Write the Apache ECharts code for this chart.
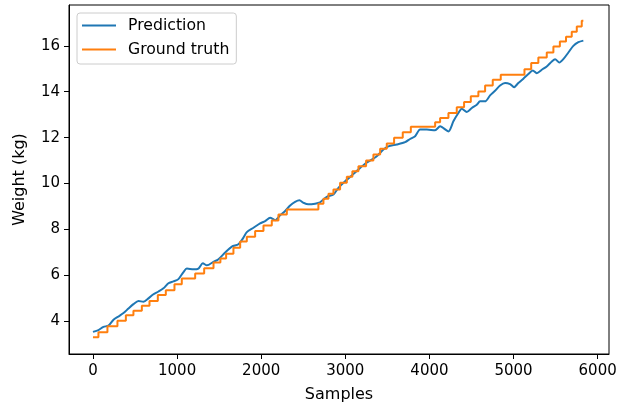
<!DOCTYPE html>
<html>
<head>
<meta charset="utf-8">
<script src="https://cdn.jsdelivr.net/npm/echarts@6/dist/echarts.min.js"></script>
<style>
  html, body { margin: 0; padding: 0; background: #fff; }
  #chart { width: 626px; height: 408px; }
</style>
</head>
<body>
<div id="chart"></div>
<script>
// ground truth, step values (sample where the step starts, weight)
var gtX = [0, 65, 172, 291, 391, 481, 581, 672, 771, 866,
  969, 1056, 1215, 1322, 1433, 1515, 1583, 1670, 1750, 1829,
  1928, 2027, 2126, 2205, 2305, 2680, 2740, 2800, 2859, 2938,
  3018, 3084, 3156, 3247, 3334, 3414, 3493, 3580, 3683, 3779,
  4068, 4127, 4226, 4325, 4412, 4492, 4582, 4662, 4753, 4848,
  5130, 5210, 5295, 5395, 5474, 5551, 5624, 5692, 5752, 5811, 5830];
var gtY = [3.29, 3.51, 3.78, 4.01, 4.26, 4.45, 4.67, 4.88, 5.14, 5.35,
  5.61, 5.86, 6.07, 6.30, 6.55, 6.73, 6.94, 7.20, 7.47, 7.68,
  7.93, 8.17, 8.39, 8.65, 8.87, 9.12, 9.33, 9.55, 9.74, 10.03,
  10.29, 10.53, 10.75, 11.00, 11.26, 11.51, 11.74, 11.99, 12.23, 12.47,
  12.67, 12.86, 13.07, 13.32, 13.55, 13.80, 14.01, 14.27, 14.52, 14.74,
  14.98, 15.25, 15.49, 15.71, 15.97, 16.19, 16.40, 16.62, 16.84, 17.10, 17.10];

// prediction
var predX = [0, 65, 125, 184, 244, 303, 363, 422, 481, 541,
  600, 660, 719, 779, 838, 897, 957, 1016, 1076, 1116,
  1195, 1254, 1306, 1354, 1432, 1492, 1571, 1651, 1729, 1789,
  1829, 1908, 1987, 2047, 2106, 2166, 2225, 2285, 2344, 2403,
  2455, 2502, 2561, 2641, 2700, 2780, 2859, 2918, 2998, 3077,
  3156, 3235, 3315, 3374, 3453, 3512, 3612, 3711, 3770, 3830,
  3889, 3969, 4067, 4127, 4226, 4285, 4344, 4384, 4444, 4504,
  4563, 4602, 4662, 4721, 4780, 4840, 4899, 4959, 5006, 5057,
  5117, 5176, 5229, 5276, 5336, 5395, 5455, 5494, 5545, 5592,
  5652, 5711, 5771, 5830];
var predY = [3.53, 3.61, 3.75, 3.80, 4.06, 4.20, 4.35, 4.55, 4.74, 4.88,
  4.84, 4.99, 5.17, 5.29, 5.43, 5.65, 5.73, 5.83, 6.14, 6.29,
  6.26, 6.29, 6.52, 6.43, 6.58, 6.70, 6.99, 7.25, 7.35, 7.64,
  7.88, 8.07, 8.26, 8.36, 8.51, 8.40, 8.61, 8.80, 9.04, 9.20,
  9.27, 9.16, 9.09, 9.12, 9.18, 9.42, 9.52, 9.81, 10.10, 10.35,
  10.61, 10.86, 11.04, 11.19, 11.48, 11.62, 11.70, 11.80, 11.94, 12.06,
  12.35, 12.35, 12.32, 12.49, 12.27, 12.71, 13.07, 13.26, 13.12, 13.29,
  13.43, 13.58, 13.58, 13.84, 14.04, 14.27, 14.38, 14.33, 14.20, 14.38,
  14.57, 14.77, 14.93, 14.81, 14.96, 15.10, 15.32, 15.42, 15.27, 15.42,
  15.71, 16.00, 16.16, 16.23];

var xTicks = [0, 1000, 2000, 3000, 4000, 5000, 6000];
var yTicks = [4, 6, 8, 10, 12, 14, 16];

function zip(xs, ys) {
  return xs.map(function(x, i) { return [x, ys[i]]; });
}

var font = 'DejaVu Sans';
var chart = echarts.init(document.getElementById('chart'), null, {renderer: 'canvas'});

chart.setOption({
  animation: false,
  textStyle: {fontFamily: font},
  grid: {
    left: 69, top: 5, width: 540, height: 350,
    show: true, borderColor: '#000', borderWidth: 1, backgroundColor: 'transparent'
  },
  legend: {
    left: 77, top: 13,
    orient: 'vertical',
    icon: 'rect',
    itemWidth: 34, itemHeight: 2,
    itemGap: 7,
    padding: [4, 7, 6, 5],
    backgroundColor: 'rgba(255,255,255,0.8)',
    borderColor: '#cccccc', borderWidth: 1, borderRadius: 3,
    textStyle: {fontFamily: font, fontSize: 15.7, color: '#000', lineHeight: 17, padding: [0, 0, 0, 7]},
    data: ['Prediction', 'Ground truth']
  },
  xAxis: {
    type: 'value',
    min: -285, max: 6135,
    name: 'Samples',
    nameLocation: 'middle',
    nameGap: 33,
    nameTextStyle: {fontFamily: font, fontSize: 16, color: '#000'},
    splitLine: {show: false},
    axisLine: {show: true, onZero: false, lineStyle: {color: '#000', width: 1}},
    axisTick: {show: true, length: 5, customValues: xTicks, lineStyle: {color: '#000', width: 1}},
    axisLabel: {
      customValues: xTicks, margin: 10, fontFamily: font, fontSize: 15, color: '#000',
      formatter: function(v) { return String(v); }
    }
  },
  yAxis: {
    type: 'value',
    min: 2.565, max: 17.782,
    name: 'Weight (kg)',
    nameLocation: 'middle',
    nameGap: 41,
    nameTextStyle: {fontFamily: font, fontSize: 16, color: '#000'},
    splitLine: {show: false},
    axisLine: {show: true, onZero: false, lineStyle: {color: '#000', width: 1}},
    axisTick: {show: true, length: 5, customValues: yTicks, lineStyle: {color: '#000', width: 1}},
    axisLabel: {customValues: yTicks, margin: 9, fontFamily: font, fontSize: 15, color: '#000'}
  },
  series: [
    {
      name: 'Prediction',
      type: 'line',
      data: zip(predX, predY),
      showSymbol: false,
      smooth: 0.25,
      color: '#1f77b4',
      lineStyle: {width: 2, color: '#1f77b4'}
    },
    {
      name: 'Ground truth',
      type: 'line',
      step: 'end',
      data: zip(gtX, gtY),
      showSymbol: false,
      color: '#ff7f0e',
      lineStyle: {width: 2, color: '#ff7f0e'}
    }
  ]
});
</script>
</body>
</html>
